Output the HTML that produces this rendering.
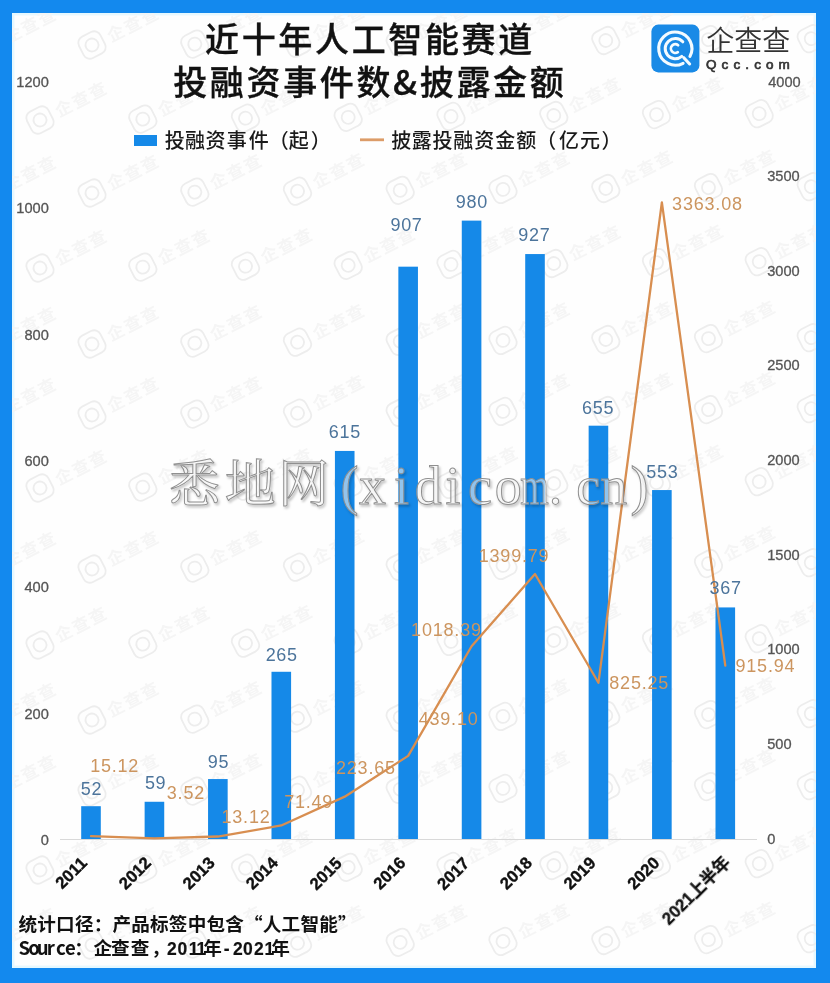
<!DOCTYPE html><html><head><meta charset="utf-8"><title>近十年人工智能赛道投融资事件数&amp;披露金额</title>
<style>html,body{margin:0;padding:0;background:#1389ee;}body{width:830px;height:983px;overflow:hidden;}svg{display:block;}</style></head><body>
<svg width="830" height="983" viewBox="0 0 830 983">
<defs><filter id="wmsh" x="-10%" y="-10%" width="130%" height="140%"><feDropShadow dx="1.5" dy="2" stdDeviation="1.2" flood-color="#000" flood-opacity="0.28"/></filter><filter id="bgb" x="-5%" y="-5%" width="110%" height="110%"><feGaussianBlur stdDeviation="0.7"/></filter><clipPath id="pc"><rect x="12" y="13" width="804" height="955"/></clipPath></defs>
<rect id="bg" x="0" y="0" width="830" height="983" fill="#1389ee"/>
<rect id="paper" x="12" y="13" width="804" height="955" fill="#fefefe"/>
<rect id="fringe" x="13.2" y="14.2" width="801.6" height="952.6" fill="none" stroke="#e6f8ff" stroke-width="2.4"/>
<g clip-path="url(#pc)"><g id="bgm" fill="none" stroke="#ededed" stroke-width="1.8" filter="url(#bgb)">
<g transform="translate(-10.8 45.9) rotate(-27)"><rect x="-12" y="-12" width="24" height="24" rx="7"/><circle cx="0" cy="0" r="6.5"/><text x="18" y="6.5" stroke="none" fill="#f5f5f5" font-family='"Noto Sans CJK SC", "Liberation Sans", sans-serif' font-size="17" font-weight="700" letter-spacing="2">企查查</text></g>
<g transform="translate(92.0 45.0) rotate(-27)"><rect x="-12" y="-12" width="24" height="24" rx="7"/><circle cx="0" cy="0" r="6.5"/><text x="18" y="6.5" stroke="none" fill="#f5f5f5" font-family='"Noto Sans CJK SC", "Liberation Sans", sans-serif' font-size="17" font-weight="700" letter-spacing="2">企查查</text></g>
<g transform="translate(194.8 44.1) rotate(-27)"><rect x="-12" y="-12" width="24" height="24" rx="7"/><circle cx="0" cy="0" r="6.5"/><text x="18" y="6.5" stroke="none" fill="#f5f5f5" font-family='"Noto Sans CJK SC", "Liberation Sans", sans-serif' font-size="17" font-weight="700" letter-spacing="2">企查查</text></g>
<g transform="translate(297.5 43.2) rotate(-27)"><rect x="-12" y="-12" width="24" height="24" rx="7"/><circle cx="0" cy="0" r="6.5"/><text x="18" y="6.5" stroke="none" fill="#f5f5f5" font-family='"Noto Sans CJK SC", "Liberation Sans", sans-serif' font-size="17" font-weight="700" letter-spacing="2">企查查</text></g>
<g transform="translate(400.2 42.3) rotate(-27)"><rect x="-12" y="-12" width="24" height="24" rx="7"/><circle cx="0" cy="0" r="6.5"/><text x="18" y="6.5" stroke="none" fill="#f5f5f5" font-family='"Noto Sans CJK SC", "Liberation Sans", sans-serif' font-size="17" font-weight="700" letter-spacing="2">企查查</text></g>
<g transform="translate(503.0 41.4) rotate(-27)"><rect x="-12" y="-12" width="24" height="24" rx="7"/><circle cx="0" cy="0" r="6.5"/><text x="18" y="6.5" stroke="none" fill="#f5f5f5" font-family='"Noto Sans CJK SC", "Liberation Sans", sans-serif' font-size="17" font-weight="700" letter-spacing="2">企查查</text></g>
<g transform="translate(605.8 40.5) rotate(-27)"><rect x="-12" y="-12" width="24" height="24" rx="7"/><circle cx="0" cy="0" r="6.5"/><text x="18" y="6.5" stroke="none" fill="#f5f5f5" font-family='"Noto Sans CJK SC", "Liberation Sans", sans-serif' font-size="17" font-weight="700" letter-spacing="2">企查查</text></g>
<g transform="translate(708.5 39.6) rotate(-27)"><rect x="-12" y="-12" width="24" height="24" rx="7"/><circle cx="0" cy="0" r="6.5"/><text x="18" y="6.5" stroke="none" fill="#f5f5f5" font-family='"Noto Sans CJK SC", "Liberation Sans", sans-serif' font-size="17" font-weight="700" letter-spacing="2">企查查</text></g>
<g transform="translate(811.2 38.7) rotate(-27)"><rect x="-12" y="-12" width="24" height="24" rx="7"/><circle cx="0" cy="0" r="6.5"/><text x="18" y="6.5" stroke="none" fill="#f5f5f5" font-family='"Noto Sans CJK SC", "Liberation Sans", sans-serif' font-size="17" font-weight="700" letter-spacing="2">企查查</text></g>
<g transform="translate(-62.8 120.9) rotate(-27)"><rect x="-12" y="-12" width="24" height="24" rx="7"/><circle cx="0" cy="0" r="6.5"/><text x="18" y="6.5" stroke="none" fill="#f5f5f5" font-family='"Noto Sans CJK SC", "Liberation Sans", sans-serif' font-size="17" font-weight="700" letter-spacing="2">企查查</text></g>
<g transform="translate(40.0 120.0) rotate(-27)"><rect x="-12" y="-12" width="24" height="24" rx="7"/><circle cx="0" cy="0" r="6.5"/><text x="18" y="6.5" stroke="none" fill="#f5f5f5" font-family='"Noto Sans CJK SC", "Liberation Sans", sans-serif' font-size="17" font-weight="700" letter-spacing="2">企查查</text></g>
<g transform="translate(142.8 119.1) rotate(-27)"><rect x="-12" y="-12" width="24" height="24" rx="7"/><circle cx="0" cy="0" r="6.5"/><text x="18" y="6.5" stroke="none" fill="#f5f5f5" font-family='"Noto Sans CJK SC", "Liberation Sans", sans-serif' font-size="17" font-weight="700" letter-spacing="2">企查查</text></g>
<g transform="translate(245.5 118.2) rotate(-27)"><rect x="-12" y="-12" width="24" height="24" rx="7"/><circle cx="0" cy="0" r="6.5"/><text x="18" y="6.5" stroke="none" fill="#f5f5f5" font-family='"Noto Sans CJK SC", "Liberation Sans", sans-serif' font-size="17" font-weight="700" letter-spacing="2">企查查</text></g>
<g transform="translate(348.2 117.3) rotate(-27)"><rect x="-12" y="-12" width="24" height="24" rx="7"/><circle cx="0" cy="0" r="6.5"/><text x="18" y="6.5" stroke="none" fill="#f5f5f5" font-family='"Noto Sans CJK SC", "Liberation Sans", sans-serif' font-size="17" font-weight="700" letter-spacing="2">企查查</text></g>
<g transform="translate(451.0 116.4) rotate(-27)"><rect x="-12" y="-12" width="24" height="24" rx="7"/><circle cx="0" cy="0" r="6.5"/><text x="18" y="6.5" stroke="none" fill="#f5f5f5" font-family='"Noto Sans CJK SC", "Liberation Sans", sans-serif' font-size="17" font-weight="700" letter-spacing="2">企查查</text></g>
<g transform="translate(553.8 115.5) rotate(-27)"><rect x="-12" y="-12" width="24" height="24" rx="7"/><circle cx="0" cy="0" r="6.5"/><text x="18" y="6.5" stroke="none" fill="#f5f5f5" font-family='"Noto Sans CJK SC", "Liberation Sans", sans-serif' font-size="17" font-weight="700" letter-spacing="2">企查查</text></g>
<g transform="translate(656.5 114.6) rotate(-27)"><rect x="-12" y="-12" width="24" height="24" rx="7"/><circle cx="0" cy="0" r="6.5"/><text x="18" y="6.5" stroke="none" fill="#f5f5f5" font-family='"Noto Sans CJK SC", "Liberation Sans", sans-serif' font-size="17" font-weight="700" letter-spacing="2">企查查</text></g>
<g transform="translate(759.2 113.7) rotate(-27)"><rect x="-12" y="-12" width="24" height="24" rx="7"/><circle cx="0" cy="0" r="6.5"/><text x="18" y="6.5" stroke="none" fill="#f5f5f5" font-family='"Noto Sans CJK SC", "Liberation Sans", sans-serif' font-size="17" font-weight="700" letter-spacing="2">企查查</text></g>
<g transform="translate(-10.8 193.9) rotate(-27)"><rect x="-12" y="-12" width="24" height="24" rx="7"/><circle cx="0" cy="0" r="6.5"/><text x="18" y="6.5" stroke="none" fill="#f5f5f5" font-family='"Noto Sans CJK SC", "Liberation Sans", sans-serif' font-size="17" font-weight="700" letter-spacing="2">企查查</text></g>
<g transform="translate(92.0 193.0) rotate(-27)"><rect x="-12" y="-12" width="24" height="24" rx="7"/><circle cx="0" cy="0" r="6.5"/><text x="18" y="6.5" stroke="none" fill="#f5f5f5" font-family='"Noto Sans CJK SC", "Liberation Sans", sans-serif' font-size="17" font-weight="700" letter-spacing="2">企查查</text></g>
<g transform="translate(194.8 192.1) rotate(-27)"><rect x="-12" y="-12" width="24" height="24" rx="7"/><circle cx="0" cy="0" r="6.5"/><text x="18" y="6.5" stroke="none" fill="#f5f5f5" font-family='"Noto Sans CJK SC", "Liberation Sans", sans-serif' font-size="17" font-weight="700" letter-spacing="2">企查查</text></g>
<g transform="translate(297.5 191.2) rotate(-27)"><rect x="-12" y="-12" width="24" height="24" rx="7"/><circle cx="0" cy="0" r="6.5"/><text x="18" y="6.5" stroke="none" fill="#f5f5f5" font-family='"Noto Sans CJK SC", "Liberation Sans", sans-serif' font-size="17" font-weight="700" letter-spacing="2">企查查</text></g>
<g transform="translate(400.2 190.3) rotate(-27)"><rect x="-12" y="-12" width="24" height="24" rx="7"/><circle cx="0" cy="0" r="6.5"/><text x="18" y="6.5" stroke="none" fill="#f5f5f5" font-family='"Noto Sans CJK SC", "Liberation Sans", sans-serif' font-size="17" font-weight="700" letter-spacing="2">企查查</text></g>
<g transform="translate(503.0 189.4) rotate(-27)"><rect x="-12" y="-12" width="24" height="24" rx="7"/><circle cx="0" cy="0" r="6.5"/><text x="18" y="6.5" stroke="none" fill="#f5f5f5" font-family='"Noto Sans CJK SC", "Liberation Sans", sans-serif' font-size="17" font-weight="700" letter-spacing="2">企查查</text></g>
<g transform="translate(605.8 188.5) rotate(-27)"><rect x="-12" y="-12" width="24" height="24" rx="7"/><circle cx="0" cy="0" r="6.5"/><text x="18" y="6.5" stroke="none" fill="#f5f5f5" font-family='"Noto Sans CJK SC", "Liberation Sans", sans-serif' font-size="17" font-weight="700" letter-spacing="2">企查查</text></g>
<g transform="translate(708.5 187.6) rotate(-27)"><rect x="-12" y="-12" width="24" height="24" rx="7"/><circle cx="0" cy="0" r="6.5"/><text x="18" y="6.5" stroke="none" fill="#f5f5f5" font-family='"Noto Sans CJK SC", "Liberation Sans", sans-serif' font-size="17" font-weight="700" letter-spacing="2">企查查</text></g>
<g transform="translate(811.2 186.7) rotate(-27)"><rect x="-12" y="-12" width="24" height="24" rx="7"/><circle cx="0" cy="0" r="6.5"/><text x="18" y="6.5" stroke="none" fill="#f5f5f5" font-family='"Noto Sans CJK SC", "Liberation Sans", sans-serif' font-size="17" font-weight="700" letter-spacing="2">企查查</text></g>
<g transform="translate(-62.8 268.9) rotate(-27)"><rect x="-12" y="-12" width="24" height="24" rx="7"/><circle cx="0" cy="0" r="6.5"/><text x="18" y="6.5" stroke="none" fill="#f5f5f5" font-family='"Noto Sans CJK SC", "Liberation Sans", sans-serif' font-size="17" font-weight="700" letter-spacing="2">企查查</text></g>
<g transform="translate(40.0 268.0) rotate(-27)"><rect x="-12" y="-12" width="24" height="24" rx="7"/><circle cx="0" cy="0" r="6.5"/><text x="18" y="6.5" stroke="none" fill="#f5f5f5" font-family='"Noto Sans CJK SC", "Liberation Sans", sans-serif' font-size="17" font-weight="700" letter-spacing="2">企查查</text></g>
<g transform="translate(142.8 267.1) rotate(-27)"><rect x="-12" y="-12" width="24" height="24" rx="7"/><circle cx="0" cy="0" r="6.5"/><text x="18" y="6.5" stroke="none" fill="#f5f5f5" font-family='"Noto Sans CJK SC", "Liberation Sans", sans-serif' font-size="17" font-weight="700" letter-spacing="2">企查查</text></g>
<g transform="translate(245.5 266.2) rotate(-27)"><rect x="-12" y="-12" width="24" height="24" rx="7"/><circle cx="0" cy="0" r="6.5"/><text x="18" y="6.5" stroke="none" fill="#f5f5f5" font-family='"Noto Sans CJK SC", "Liberation Sans", sans-serif' font-size="17" font-weight="700" letter-spacing="2">企查查</text></g>
<g transform="translate(348.2 265.3) rotate(-27)"><rect x="-12" y="-12" width="24" height="24" rx="7"/><circle cx="0" cy="0" r="6.5"/><text x="18" y="6.5" stroke="none" fill="#f5f5f5" font-family='"Noto Sans CJK SC", "Liberation Sans", sans-serif' font-size="17" font-weight="700" letter-spacing="2">企查查</text></g>
<g transform="translate(451.0 264.4) rotate(-27)"><rect x="-12" y="-12" width="24" height="24" rx="7"/><circle cx="0" cy="0" r="6.5"/><text x="18" y="6.5" stroke="none" fill="#f5f5f5" font-family='"Noto Sans CJK SC", "Liberation Sans", sans-serif' font-size="17" font-weight="700" letter-spacing="2">企查查</text></g>
<g transform="translate(553.8 263.5) rotate(-27)"><rect x="-12" y="-12" width="24" height="24" rx="7"/><circle cx="0" cy="0" r="6.5"/><text x="18" y="6.5" stroke="none" fill="#f5f5f5" font-family='"Noto Sans CJK SC", "Liberation Sans", sans-serif' font-size="17" font-weight="700" letter-spacing="2">企查查</text></g>
<g transform="translate(656.5 262.6) rotate(-27)"><rect x="-12" y="-12" width="24" height="24" rx="7"/><circle cx="0" cy="0" r="6.5"/><text x="18" y="6.5" stroke="none" fill="#f5f5f5" font-family='"Noto Sans CJK SC", "Liberation Sans", sans-serif' font-size="17" font-weight="700" letter-spacing="2">企查查</text></g>
<g transform="translate(759.2 261.7) rotate(-27)"><rect x="-12" y="-12" width="24" height="24" rx="7"/><circle cx="0" cy="0" r="6.5"/><text x="18" y="6.5" stroke="none" fill="#f5f5f5" font-family='"Noto Sans CJK SC", "Liberation Sans", sans-serif' font-size="17" font-weight="700" letter-spacing="2">企查查</text></g>
<g transform="translate(-10.8 344.9) rotate(-27)"><rect x="-12" y="-12" width="24" height="24" rx="7"/><circle cx="0" cy="0" r="6.5"/><text x="18" y="6.5" stroke="none" fill="#f5f5f5" font-family='"Noto Sans CJK SC", "Liberation Sans", sans-serif' font-size="17" font-weight="700" letter-spacing="2">企查查</text></g>
<g transform="translate(92.0 344.0) rotate(-27)"><rect x="-12" y="-12" width="24" height="24" rx="7"/><circle cx="0" cy="0" r="6.5"/><text x="18" y="6.5" stroke="none" fill="#f5f5f5" font-family='"Noto Sans CJK SC", "Liberation Sans", sans-serif' font-size="17" font-weight="700" letter-spacing="2">企查查</text></g>
<g transform="translate(194.8 343.1) rotate(-27)"><rect x="-12" y="-12" width="24" height="24" rx="7"/><circle cx="0" cy="0" r="6.5"/><text x="18" y="6.5" stroke="none" fill="#f5f5f5" font-family='"Noto Sans CJK SC", "Liberation Sans", sans-serif' font-size="17" font-weight="700" letter-spacing="2">企查查</text></g>
<g transform="translate(297.5 342.2) rotate(-27)"><rect x="-12" y="-12" width="24" height="24" rx="7"/><circle cx="0" cy="0" r="6.5"/><text x="18" y="6.5" stroke="none" fill="#f5f5f5" font-family='"Noto Sans CJK SC", "Liberation Sans", sans-serif' font-size="17" font-weight="700" letter-spacing="2">企查查</text></g>
<g transform="translate(400.2 341.3) rotate(-27)"><rect x="-12" y="-12" width="24" height="24" rx="7"/><circle cx="0" cy="0" r="6.5"/><text x="18" y="6.5" stroke="none" fill="#f5f5f5" font-family='"Noto Sans CJK SC", "Liberation Sans", sans-serif' font-size="17" font-weight="700" letter-spacing="2">企查查</text></g>
<g transform="translate(503.0 340.4) rotate(-27)"><rect x="-12" y="-12" width="24" height="24" rx="7"/><circle cx="0" cy="0" r="6.5"/><text x="18" y="6.5" stroke="none" fill="#f5f5f5" font-family='"Noto Sans CJK SC", "Liberation Sans", sans-serif' font-size="17" font-weight="700" letter-spacing="2">企查查</text></g>
<g transform="translate(605.8 339.5) rotate(-27)"><rect x="-12" y="-12" width="24" height="24" rx="7"/><circle cx="0" cy="0" r="6.5"/><text x="18" y="6.5" stroke="none" fill="#f5f5f5" font-family='"Noto Sans CJK SC", "Liberation Sans", sans-serif' font-size="17" font-weight="700" letter-spacing="2">企查查</text></g>
<g transform="translate(708.5 338.6) rotate(-27)"><rect x="-12" y="-12" width="24" height="24" rx="7"/><circle cx="0" cy="0" r="6.5"/><text x="18" y="6.5" stroke="none" fill="#f5f5f5" font-family='"Noto Sans CJK SC", "Liberation Sans", sans-serif' font-size="17" font-weight="700" letter-spacing="2">企查查</text></g>
<g transform="translate(811.2 337.7) rotate(-27)"><rect x="-12" y="-12" width="24" height="24" rx="7"/><circle cx="0" cy="0" r="6.5"/><text x="18" y="6.5" stroke="none" fill="#f5f5f5" font-family='"Noto Sans CJK SC", "Liberation Sans", sans-serif' font-size="17" font-weight="700" letter-spacing="2">企查查</text></g>
<g transform="translate(-10.8 415.9) rotate(-27)"><rect x="-12" y="-12" width="24" height="24" rx="7"/><circle cx="0" cy="0" r="6.5"/><text x="18" y="6.5" stroke="none" fill="#f5f5f5" font-family='"Noto Sans CJK SC", "Liberation Sans", sans-serif' font-size="17" font-weight="700" letter-spacing="2">企查查</text></g>
<g transform="translate(92.0 415.0) rotate(-27)"><rect x="-12" y="-12" width="24" height="24" rx="7"/><circle cx="0" cy="0" r="6.5"/><text x="18" y="6.5" stroke="none" fill="#f5f5f5" font-family='"Noto Sans CJK SC", "Liberation Sans", sans-serif' font-size="17" font-weight="700" letter-spacing="2">企查查</text></g>
<g transform="translate(194.8 414.1) rotate(-27)"><rect x="-12" y="-12" width="24" height="24" rx="7"/><circle cx="0" cy="0" r="6.5"/><text x="18" y="6.5" stroke="none" fill="#f5f5f5" font-family='"Noto Sans CJK SC", "Liberation Sans", sans-serif' font-size="17" font-weight="700" letter-spacing="2">企查查</text></g>
<g transform="translate(297.5 413.2) rotate(-27)"><rect x="-12" y="-12" width="24" height="24" rx="7"/><circle cx="0" cy="0" r="6.5"/><text x="18" y="6.5" stroke="none" fill="#f5f5f5" font-family='"Noto Sans CJK SC", "Liberation Sans", sans-serif' font-size="17" font-weight="700" letter-spacing="2">企查查</text></g>
<g transform="translate(400.2 412.3) rotate(-27)"><rect x="-12" y="-12" width="24" height="24" rx="7"/><circle cx="0" cy="0" r="6.5"/><text x="18" y="6.5" stroke="none" fill="#f5f5f5" font-family='"Noto Sans CJK SC", "Liberation Sans", sans-serif' font-size="17" font-weight="700" letter-spacing="2">企查查</text></g>
<g transform="translate(503.0 411.4) rotate(-27)"><rect x="-12" y="-12" width="24" height="24" rx="7"/><circle cx="0" cy="0" r="6.5"/><text x="18" y="6.5" stroke="none" fill="#f5f5f5" font-family='"Noto Sans CJK SC", "Liberation Sans", sans-serif' font-size="17" font-weight="700" letter-spacing="2">企查查</text></g>
<g transform="translate(605.8 410.5) rotate(-27)"><rect x="-12" y="-12" width="24" height="24" rx="7"/><circle cx="0" cy="0" r="6.5"/><text x="18" y="6.5" stroke="none" fill="#f5f5f5" font-family='"Noto Sans CJK SC", "Liberation Sans", sans-serif' font-size="17" font-weight="700" letter-spacing="2">企查查</text></g>
<g transform="translate(708.5 409.6) rotate(-27)"><rect x="-12" y="-12" width="24" height="24" rx="7"/><circle cx="0" cy="0" r="6.5"/><text x="18" y="6.5" stroke="none" fill="#f5f5f5" font-family='"Noto Sans CJK SC", "Liberation Sans", sans-serif' font-size="17" font-weight="700" letter-spacing="2">企查查</text></g>
<g transform="translate(811.2 408.7) rotate(-27)"><rect x="-12" y="-12" width="24" height="24" rx="7"/><circle cx="0" cy="0" r="6.5"/><text x="18" y="6.5" stroke="none" fill="#f5f5f5" font-family='"Noto Sans CJK SC", "Liberation Sans", sans-serif' font-size="17" font-weight="700" letter-spacing="2">企查查</text></g>
<g transform="translate(-62.8 488.9) rotate(-27)"><rect x="-12" y="-12" width="24" height="24" rx="7"/><circle cx="0" cy="0" r="6.5"/><text x="18" y="6.5" stroke="none" fill="#f5f5f5" font-family='"Noto Sans CJK SC", "Liberation Sans", sans-serif' font-size="17" font-weight="700" letter-spacing="2">企查查</text></g>
<g transform="translate(40.0 488.0) rotate(-27)"><rect x="-12" y="-12" width="24" height="24" rx="7"/><circle cx="0" cy="0" r="6.5"/><text x="18" y="6.5" stroke="none" fill="#f5f5f5" font-family='"Noto Sans CJK SC", "Liberation Sans", sans-serif' font-size="17" font-weight="700" letter-spacing="2">企查查</text></g>
<g transform="translate(142.8 487.1) rotate(-27)"><rect x="-12" y="-12" width="24" height="24" rx="7"/><circle cx="0" cy="0" r="6.5"/><text x="18" y="6.5" stroke="none" fill="#f5f5f5" font-family='"Noto Sans CJK SC", "Liberation Sans", sans-serif' font-size="17" font-weight="700" letter-spacing="2">企查查</text></g>
<g transform="translate(245.5 486.2) rotate(-27)"><rect x="-12" y="-12" width="24" height="24" rx="7"/><circle cx="0" cy="0" r="6.5"/><text x="18" y="6.5" stroke="none" fill="#f5f5f5" font-family='"Noto Sans CJK SC", "Liberation Sans", sans-serif' font-size="17" font-weight="700" letter-spacing="2">企查查</text></g>
<g transform="translate(348.2 485.3) rotate(-27)"><rect x="-12" y="-12" width="24" height="24" rx="7"/><circle cx="0" cy="0" r="6.5"/><text x="18" y="6.5" stroke="none" fill="#f5f5f5" font-family='"Noto Sans CJK SC", "Liberation Sans", sans-serif' font-size="17" font-weight="700" letter-spacing="2">企查查</text></g>
<g transform="translate(451.0 484.4) rotate(-27)"><rect x="-12" y="-12" width="24" height="24" rx="7"/><circle cx="0" cy="0" r="6.5"/><text x="18" y="6.5" stroke="none" fill="#f5f5f5" font-family='"Noto Sans CJK SC", "Liberation Sans", sans-serif' font-size="17" font-weight="700" letter-spacing="2">企查查</text></g>
<g transform="translate(553.8 483.5) rotate(-27)"><rect x="-12" y="-12" width="24" height="24" rx="7"/><circle cx="0" cy="0" r="6.5"/><text x="18" y="6.5" stroke="none" fill="#f5f5f5" font-family='"Noto Sans CJK SC", "Liberation Sans", sans-serif' font-size="17" font-weight="700" letter-spacing="2">企查查</text></g>
<g transform="translate(656.5 482.6) rotate(-27)"><rect x="-12" y="-12" width="24" height="24" rx="7"/><circle cx="0" cy="0" r="6.5"/><text x="18" y="6.5" stroke="none" fill="#f5f5f5" font-family='"Noto Sans CJK SC", "Liberation Sans", sans-serif' font-size="17" font-weight="700" letter-spacing="2">企查查</text></g>
<g transform="translate(759.2 481.7) rotate(-27)"><rect x="-12" y="-12" width="24" height="24" rx="7"/><circle cx="0" cy="0" r="6.5"/><text x="18" y="6.5" stroke="none" fill="#f5f5f5" font-family='"Noto Sans CJK SC", "Liberation Sans", sans-serif' font-size="17" font-weight="700" letter-spacing="2">企查查</text></g>
<g transform="translate(-10.8 569.9) rotate(-27)"><rect x="-12" y="-12" width="24" height="24" rx="7"/><circle cx="0" cy="0" r="6.5"/><text x="18" y="6.5" stroke="none" fill="#f5f5f5" font-family='"Noto Sans CJK SC", "Liberation Sans", sans-serif' font-size="17" font-weight="700" letter-spacing="2">企查查</text></g>
<g transform="translate(92.0 569.0) rotate(-27)"><rect x="-12" y="-12" width="24" height="24" rx="7"/><circle cx="0" cy="0" r="6.5"/><text x="18" y="6.5" stroke="none" fill="#f5f5f5" font-family='"Noto Sans CJK SC", "Liberation Sans", sans-serif' font-size="17" font-weight="700" letter-spacing="2">企查查</text></g>
<g transform="translate(194.8 568.1) rotate(-27)"><rect x="-12" y="-12" width="24" height="24" rx="7"/><circle cx="0" cy="0" r="6.5"/><text x="18" y="6.5" stroke="none" fill="#f5f5f5" font-family='"Noto Sans CJK SC", "Liberation Sans", sans-serif' font-size="17" font-weight="700" letter-spacing="2">企查查</text></g>
<g transform="translate(297.5 567.2) rotate(-27)"><rect x="-12" y="-12" width="24" height="24" rx="7"/><circle cx="0" cy="0" r="6.5"/><text x="18" y="6.5" stroke="none" fill="#f5f5f5" font-family='"Noto Sans CJK SC", "Liberation Sans", sans-serif' font-size="17" font-weight="700" letter-spacing="2">企查查</text></g>
<g transform="translate(400.2 566.3) rotate(-27)"><rect x="-12" y="-12" width="24" height="24" rx="7"/><circle cx="0" cy="0" r="6.5"/><text x="18" y="6.5" stroke="none" fill="#f5f5f5" font-family='"Noto Sans CJK SC", "Liberation Sans", sans-serif' font-size="17" font-weight="700" letter-spacing="2">企查查</text></g>
<g transform="translate(503.0 565.4) rotate(-27)"><rect x="-12" y="-12" width="24" height="24" rx="7"/><circle cx="0" cy="0" r="6.5"/><text x="18" y="6.5" stroke="none" fill="#f5f5f5" font-family='"Noto Sans CJK SC", "Liberation Sans", sans-serif' font-size="17" font-weight="700" letter-spacing="2">企查查</text></g>
<g transform="translate(605.8 564.5) rotate(-27)"><rect x="-12" y="-12" width="24" height="24" rx="7"/><circle cx="0" cy="0" r="6.5"/><text x="18" y="6.5" stroke="none" fill="#f5f5f5" font-family='"Noto Sans CJK SC", "Liberation Sans", sans-serif' font-size="17" font-weight="700" letter-spacing="2">企查查</text></g>
<g transform="translate(708.5 563.6) rotate(-27)"><rect x="-12" y="-12" width="24" height="24" rx="7"/><circle cx="0" cy="0" r="6.5"/><text x="18" y="6.5" stroke="none" fill="#f5f5f5" font-family='"Noto Sans CJK SC", "Liberation Sans", sans-serif' font-size="17" font-weight="700" letter-spacing="2">企查查</text></g>
<g transform="translate(811.2 562.7) rotate(-27)"><rect x="-12" y="-12" width="24" height="24" rx="7"/><circle cx="0" cy="0" r="6.5"/><text x="18" y="6.5" stroke="none" fill="#f5f5f5" font-family='"Noto Sans CJK SC", "Liberation Sans", sans-serif' font-size="17" font-weight="700" letter-spacing="2">企查查</text></g>
<g transform="translate(-62.8 645.9) rotate(-27)"><rect x="-12" y="-12" width="24" height="24" rx="7"/><circle cx="0" cy="0" r="6.5"/><text x="18" y="6.5" stroke="none" fill="#f5f5f5" font-family='"Noto Sans CJK SC", "Liberation Sans", sans-serif' font-size="17" font-weight="700" letter-spacing="2">企查查</text></g>
<g transform="translate(40.0 645.0) rotate(-27)"><rect x="-12" y="-12" width="24" height="24" rx="7"/><circle cx="0" cy="0" r="6.5"/><text x="18" y="6.5" stroke="none" fill="#f5f5f5" font-family='"Noto Sans CJK SC", "Liberation Sans", sans-serif' font-size="17" font-weight="700" letter-spacing="2">企查查</text></g>
<g transform="translate(142.8 644.1) rotate(-27)"><rect x="-12" y="-12" width="24" height="24" rx="7"/><circle cx="0" cy="0" r="6.5"/><text x="18" y="6.5" stroke="none" fill="#f5f5f5" font-family='"Noto Sans CJK SC", "Liberation Sans", sans-serif' font-size="17" font-weight="700" letter-spacing="2">企查查</text></g>
<g transform="translate(245.5 643.2) rotate(-27)"><rect x="-12" y="-12" width="24" height="24" rx="7"/><circle cx="0" cy="0" r="6.5"/><text x="18" y="6.5" stroke="none" fill="#f5f5f5" font-family='"Noto Sans CJK SC", "Liberation Sans", sans-serif' font-size="17" font-weight="700" letter-spacing="2">企查查</text></g>
<g transform="translate(348.2 642.3) rotate(-27)"><rect x="-12" y="-12" width="24" height="24" rx="7"/><circle cx="0" cy="0" r="6.5"/><text x="18" y="6.5" stroke="none" fill="#f5f5f5" font-family='"Noto Sans CJK SC", "Liberation Sans", sans-serif' font-size="17" font-weight="700" letter-spacing="2">企查查</text></g>
<g transform="translate(451.0 641.4) rotate(-27)"><rect x="-12" y="-12" width="24" height="24" rx="7"/><circle cx="0" cy="0" r="6.5"/><text x="18" y="6.5" stroke="none" fill="#f5f5f5" font-family='"Noto Sans CJK SC", "Liberation Sans", sans-serif' font-size="17" font-weight="700" letter-spacing="2">企查查</text></g>
<g transform="translate(553.8 640.5) rotate(-27)"><rect x="-12" y="-12" width="24" height="24" rx="7"/><circle cx="0" cy="0" r="6.5"/><text x="18" y="6.5" stroke="none" fill="#f5f5f5" font-family='"Noto Sans CJK SC", "Liberation Sans", sans-serif' font-size="17" font-weight="700" letter-spacing="2">企查查</text></g>
<g transform="translate(656.5 639.6) rotate(-27)"><rect x="-12" y="-12" width="24" height="24" rx="7"/><circle cx="0" cy="0" r="6.5"/><text x="18" y="6.5" stroke="none" fill="#f5f5f5" font-family='"Noto Sans CJK SC", "Liberation Sans", sans-serif' font-size="17" font-weight="700" letter-spacing="2">企查查</text></g>
<g transform="translate(759.2 638.7) rotate(-27)"><rect x="-12" y="-12" width="24" height="24" rx="7"/><circle cx="0" cy="0" r="6.5"/><text x="18" y="6.5" stroke="none" fill="#f5f5f5" font-family='"Noto Sans CJK SC", "Liberation Sans", sans-serif' font-size="17" font-weight="700" letter-spacing="2">企查查</text></g>
<g transform="translate(-10.8 720.9) rotate(-27)"><rect x="-12" y="-12" width="24" height="24" rx="7"/><circle cx="0" cy="0" r="6.5"/><text x="18" y="6.5" stroke="none" fill="#f5f5f5" font-family='"Noto Sans CJK SC", "Liberation Sans", sans-serif' font-size="17" font-weight="700" letter-spacing="2">企查查</text></g>
<g transform="translate(92.0 720.0) rotate(-27)"><rect x="-12" y="-12" width="24" height="24" rx="7"/><circle cx="0" cy="0" r="6.5"/><text x="18" y="6.5" stroke="none" fill="#f5f5f5" font-family='"Noto Sans CJK SC", "Liberation Sans", sans-serif' font-size="17" font-weight="700" letter-spacing="2">企查查</text></g>
<g transform="translate(194.8 719.1) rotate(-27)"><rect x="-12" y="-12" width="24" height="24" rx="7"/><circle cx="0" cy="0" r="6.5"/><text x="18" y="6.5" stroke="none" fill="#f5f5f5" font-family='"Noto Sans CJK SC", "Liberation Sans", sans-serif' font-size="17" font-weight="700" letter-spacing="2">企查查</text></g>
<g transform="translate(297.5 718.2) rotate(-27)"><rect x="-12" y="-12" width="24" height="24" rx="7"/><circle cx="0" cy="0" r="6.5"/><text x="18" y="6.5" stroke="none" fill="#f5f5f5" font-family='"Noto Sans CJK SC", "Liberation Sans", sans-serif' font-size="17" font-weight="700" letter-spacing="2">企查查</text></g>
<g transform="translate(400.2 717.3) rotate(-27)"><rect x="-12" y="-12" width="24" height="24" rx="7"/><circle cx="0" cy="0" r="6.5"/><text x="18" y="6.5" stroke="none" fill="#f5f5f5" font-family='"Noto Sans CJK SC", "Liberation Sans", sans-serif' font-size="17" font-weight="700" letter-spacing="2">企查查</text></g>
<g transform="translate(503.0 716.4) rotate(-27)"><rect x="-12" y="-12" width="24" height="24" rx="7"/><circle cx="0" cy="0" r="6.5"/><text x="18" y="6.5" stroke="none" fill="#f5f5f5" font-family='"Noto Sans CJK SC", "Liberation Sans", sans-serif' font-size="17" font-weight="700" letter-spacing="2">企查查</text></g>
<g transform="translate(605.8 715.5) rotate(-27)"><rect x="-12" y="-12" width="24" height="24" rx="7"/><circle cx="0" cy="0" r="6.5"/><text x="18" y="6.5" stroke="none" fill="#f5f5f5" font-family='"Noto Sans CJK SC", "Liberation Sans", sans-serif' font-size="17" font-weight="700" letter-spacing="2">企查查</text></g>
<g transform="translate(708.5 714.6) rotate(-27)"><rect x="-12" y="-12" width="24" height="24" rx="7"/><circle cx="0" cy="0" r="6.5"/><text x="18" y="6.5" stroke="none" fill="#f5f5f5" font-family='"Noto Sans CJK SC", "Liberation Sans", sans-serif' font-size="17" font-weight="700" letter-spacing="2">企查查</text></g>
<g transform="translate(811.2 713.7) rotate(-27)"><rect x="-12" y="-12" width="24" height="24" rx="7"/><circle cx="0" cy="0" r="6.5"/><text x="18" y="6.5" stroke="none" fill="#f5f5f5" font-family='"Noto Sans CJK SC", "Liberation Sans", sans-serif' font-size="17" font-weight="700" letter-spacing="2">企查查</text></g>
<g transform="translate(-10.8 792.9) rotate(-27)"><rect x="-12" y="-12" width="24" height="24" rx="7"/><circle cx="0" cy="0" r="6.5"/><text x="18" y="6.5" stroke="none" fill="#f5f5f5" font-family='"Noto Sans CJK SC", "Liberation Sans", sans-serif' font-size="17" font-weight="700" letter-spacing="2">企查查</text></g>
<g transform="translate(92.0 792.0) rotate(-27)"><rect x="-12" y="-12" width="24" height="24" rx="7"/><circle cx="0" cy="0" r="6.5"/><text x="18" y="6.5" stroke="none" fill="#f5f5f5" font-family='"Noto Sans CJK SC", "Liberation Sans", sans-serif' font-size="17" font-weight="700" letter-spacing="2">企查查</text></g>
<g transform="translate(194.8 791.1) rotate(-27)"><rect x="-12" y="-12" width="24" height="24" rx="7"/><circle cx="0" cy="0" r="6.5"/><text x="18" y="6.5" stroke="none" fill="#f5f5f5" font-family='"Noto Sans CJK SC", "Liberation Sans", sans-serif' font-size="17" font-weight="700" letter-spacing="2">企查查</text></g>
<g transform="translate(297.5 790.2) rotate(-27)"><rect x="-12" y="-12" width="24" height="24" rx="7"/><circle cx="0" cy="0" r="6.5"/><text x="18" y="6.5" stroke="none" fill="#f5f5f5" font-family='"Noto Sans CJK SC", "Liberation Sans", sans-serif' font-size="17" font-weight="700" letter-spacing="2">企查查</text></g>
<g transform="translate(400.2 789.3) rotate(-27)"><rect x="-12" y="-12" width="24" height="24" rx="7"/><circle cx="0" cy="0" r="6.5"/><text x="18" y="6.5" stroke="none" fill="#f5f5f5" font-family='"Noto Sans CJK SC", "Liberation Sans", sans-serif' font-size="17" font-weight="700" letter-spacing="2">企查查</text></g>
<g transform="translate(503.0 788.4) rotate(-27)"><rect x="-12" y="-12" width="24" height="24" rx="7"/><circle cx="0" cy="0" r="6.5"/><text x="18" y="6.5" stroke="none" fill="#f5f5f5" font-family='"Noto Sans CJK SC", "Liberation Sans", sans-serif' font-size="17" font-weight="700" letter-spacing="2">企查查</text></g>
<g transform="translate(605.8 787.5) rotate(-27)"><rect x="-12" y="-12" width="24" height="24" rx="7"/><circle cx="0" cy="0" r="6.5"/><text x="18" y="6.5" stroke="none" fill="#f5f5f5" font-family='"Noto Sans CJK SC", "Liberation Sans", sans-serif' font-size="17" font-weight="700" letter-spacing="2">企查查</text></g>
<g transform="translate(708.5 786.6) rotate(-27)"><rect x="-12" y="-12" width="24" height="24" rx="7"/><circle cx="0" cy="0" r="6.5"/><text x="18" y="6.5" stroke="none" fill="#f5f5f5" font-family='"Noto Sans CJK SC", "Liberation Sans", sans-serif' font-size="17" font-weight="700" letter-spacing="2">企查查</text></g>
<g transform="translate(811.2 785.7) rotate(-27)"><rect x="-12" y="-12" width="24" height="24" rx="7"/><circle cx="0" cy="0" r="6.5"/><text x="18" y="6.5" stroke="none" fill="#f5f5f5" font-family='"Noto Sans CJK SC", "Liberation Sans", sans-serif' font-size="17" font-weight="700" letter-spacing="2">企查查</text></g>
<g transform="translate(-62.8 870.9) rotate(-27)"><rect x="-12" y="-12" width="24" height="24" rx="7"/><circle cx="0" cy="0" r="6.5"/><text x="18" y="6.5" stroke="none" fill="#f5f5f5" font-family='"Noto Sans CJK SC", "Liberation Sans", sans-serif' font-size="17" font-weight="700" letter-spacing="2">企查查</text></g>
<g transform="translate(40.0 870.0) rotate(-27)"><rect x="-12" y="-12" width="24" height="24" rx="7"/><circle cx="0" cy="0" r="6.5"/><text x="18" y="6.5" stroke="none" fill="#f5f5f5" font-family='"Noto Sans CJK SC", "Liberation Sans", sans-serif' font-size="17" font-weight="700" letter-spacing="2">企查查</text></g>
<g transform="translate(142.8 869.1) rotate(-27)"><rect x="-12" y="-12" width="24" height="24" rx="7"/><circle cx="0" cy="0" r="6.5"/><text x="18" y="6.5" stroke="none" fill="#f5f5f5" font-family='"Noto Sans CJK SC", "Liberation Sans", sans-serif' font-size="17" font-weight="700" letter-spacing="2">企查查</text></g>
<g transform="translate(245.5 868.2) rotate(-27)"><rect x="-12" y="-12" width="24" height="24" rx="7"/><circle cx="0" cy="0" r="6.5"/><text x="18" y="6.5" stroke="none" fill="#f5f5f5" font-family='"Noto Sans CJK SC", "Liberation Sans", sans-serif' font-size="17" font-weight="700" letter-spacing="2">企查查</text></g>
<g transform="translate(348.2 867.3) rotate(-27)"><rect x="-12" y="-12" width="24" height="24" rx="7"/><circle cx="0" cy="0" r="6.5"/><text x="18" y="6.5" stroke="none" fill="#f5f5f5" font-family='"Noto Sans CJK SC", "Liberation Sans", sans-serif' font-size="17" font-weight="700" letter-spacing="2">企查查</text></g>
<g transform="translate(451.0 866.4) rotate(-27)"><rect x="-12" y="-12" width="24" height="24" rx="7"/><circle cx="0" cy="0" r="6.5"/><text x="18" y="6.5" stroke="none" fill="#f5f5f5" font-family='"Noto Sans CJK SC", "Liberation Sans", sans-serif' font-size="17" font-weight="700" letter-spacing="2">企查查</text></g>
<g transform="translate(553.8 865.5) rotate(-27)"><rect x="-12" y="-12" width="24" height="24" rx="7"/><circle cx="0" cy="0" r="6.5"/><text x="18" y="6.5" stroke="none" fill="#f5f5f5" font-family='"Noto Sans CJK SC", "Liberation Sans", sans-serif' font-size="17" font-weight="700" letter-spacing="2">企查查</text></g>
<g transform="translate(656.5 864.6) rotate(-27)"><rect x="-12" y="-12" width="24" height="24" rx="7"/><circle cx="0" cy="0" r="6.5"/><text x="18" y="6.5" stroke="none" fill="#f5f5f5" font-family='"Noto Sans CJK SC", "Liberation Sans", sans-serif' font-size="17" font-weight="700" letter-spacing="2">企查查</text></g>
<g transform="translate(759.2 863.7) rotate(-27)"><rect x="-12" y="-12" width="24" height="24" rx="7"/><circle cx="0" cy="0" r="6.5"/><text x="18" y="6.5" stroke="none" fill="#f5f5f5" font-family='"Noto Sans CJK SC", "Liberation Sans", sans-serif' font-size="17" font-weight="700" letter-spacing="2">企查查</text></g>
<g transform="translate(-10.8 945.9) rotate(-27)"><rect x="-12" y="-12" width="24" height="24" rx="7"/><circle cx="0" cy="0" r="6.5"/><text x="18" y="6.5" stroke="none" fill="#f5f5f5" font-family='"Noto Sans CJK SC", "Liberation Sans", sans-serif' font-size="17" font-weight="700" letter-spacing="2">企查查</text></g>
<g transform="translate(92.0 945.0) rotate(-27)"><rect x="-12" y="-12" width="24" height="24" rx="7"/><circle cx="0" cy="0" r="6.5"/><text x="18" y="6.5" stroke="none" fill="#f5f5f5" font-family='"Noto Sans CJK SC", "Liberation Sans", sans-serif' font-size="17" font-weight="700" letter-spacing="2">企查查</text></g>
<g transform="translate(194.8 944.1) rotate(-27)"><rect x="-12" y="-12" width="24" height="24" rx="7"/><circle cx="0" cy="0" r="6.5"/><text x="18" y="6.5" stroke="none" fill="#f5f5f5" font-family='"Noto Sans CJK SC", "Liberation Sans", sans-serif' font-size="17" font-weight="700" letter-spacing="2">企查查</text></g>
<g transform="translate(297.5 943.2) rotate(-27)"><rect x="-12" y="-12" width="24" height="24" rx="7"/><circle cx="0" cy="0" r="6.5"/><text x="18" y="6.5" stroke="none" fill="#f5f5f5" font-family='"Noto Sans CJK SC", "Liberation Sans", sans-serif' font-size="17" font-weight="700" letter-spacing="2">企查查</text></g>
<g transform="translate(400.2 942.3) rotate(-27)"><rect x="-12" y="-12" width="24" height="24" rx="7"/><circle cx="0" cy="0" r="6.5"/><text x="18" y="6.5" stroke="none" fill="#f5f5f5" font-family='"Noto Sans CJK SC", "Liberation Sans", sans-serif' font-size="17" font-weight="700" letter-spacing="2">企查查</text></g>
<g transform="translate(503.0 941.4) rotate(-27)"><rect x="-12" y="-12" width="24" height="24" rx="7"/><circle cx="0" cy="0" r="6.5"/><text x="18" y="6.5" stroke="none" fill="#f5f5f5" font-family='"Noto Sans CJK SC", "Liberation Sans", sans-serif' font-size="17" font-weight="700" letter-spacing="2">企查查</text></g>
<g transform="translate(605.8 940.5) rotate(-27)"><rect x="-12" y="-12" width="24" height="24" rx="7"/><circle cx="0" cy="0" r="6.5"/><text x="18" y="6.5" stroke="none" fill="#f5f5f5" font-family='"Noto Sans CJK SC", "Liberation Sans", sans-serif' font-size="17" font-weight="700" letter-spacing="2">企查查</text></g>
<g transform="translate(708.5 939.6) rotate(-27)"><rect x="-12" y="-12" width="24" height="24" rx="7"/><circle cx="0" cy="0" r="6.5"/><text x="18" y="6.5" stroke="none" fill="#f5f5f5" font-family='"Noto Sans CJK SC", "Liberation Sans", sans-serif' font-size="17" font-weight="700" letter-spacing="2">企查查</text></g>
<g transform="translate(811.2 938.7) rotate(-27)"><rect x="-12" y="-12" width="24" height="24" rx="7"/><circle cx="0" cy="0" r="6.5"/><text x="18" y="6.5" stroke="none" fill="#f5f5f5" font-family='"Noto Sans CJK SC", "Liberation Sans", sans-serif' font-size="17" font-weight="700" letter-spacing="2">企查查</text></g>
</g></g>
<g id="logo">
<rect x="651.4" y="24.6" width="48" height="47.8" rx="7" fill="#1a8ae6"/>
<g fill="none" stroke="#f4fbff" stroke-linecap="round">
<path d="M683.09 63.26 A16.60 16.60 0 1 1 689.96 56.39" stroke-width="3.10"/>
<path d="M681.79 56.34 A10.10 10.10 0 1 1 682.81 41.84" stroke-width="3.00"/>
<path d="M677.82 52.20 A4.40 4.40 0 1 1 678.13 45.23" stroke-width="2.70"/>
<path d="M683.82 57.74 L689.62 63.96" stroke-width="3.1"/>
</g></g>
<rect id="leg1" x="134" y="135" width="23" height="11" fill="#1589e8"/>
<rect id="leg2" x="360" y="138.4" width="24" height="2.8" fill="#dc9c68"/>
<rect id="axis" x="60" y="839" width="697" height="1" fill="#d9d9d9"/>
<g id="bars">
<rect x="81.20" y="806.19" width="19.6" height="32.81" fill="#1589e8"/>
<rect x="144.63" y="801.77" width="19.6" height="37.23" fill="#1589e8"/>
<rect x="208.06" y="779.05" width="19.6" height="59.95" fill="#1589e8"/>
<rect x="271.49" y="671.78" width="19.6" height="167.22" fill="#1589e8"/>
<rect x="334.92" y="450.94" width="19.6" height="388.06" fill="#1589e8"/>
<rect x="398.35" y="266.68" width="19.6" height="572.32" fill="#1589e8"/>
<rect x="461.78" y="220.62" width="19.6" height="618.38" fill="#1589e8"/>
<rect x="525.21" y="254.06" width="19.6" height="584.94" fill="#1589e8"/>
<rect x="588.64" y="425.69" width="19.6" height="413.31" fill="#1589e8"/>
<rect x="652.07" y="490.06" width="19.6" height="348.94" fill="#1589e8"/>
<rect x="715.50" y="607.42" width="19.6" height="231.58" fill="#1589e8"/>
</g>
<path id="line" d="M91.00 836.14 L154.43 838.33 L217.86 836.52 L281.29 825.47 L344.72 796.66 L408.15 755.88 L471.58 646.22 L535.01 574.02 L598.44 682.78 L661.87 202.37 L725.30 665.61" fill="none" stroke="#d88e50" stroke-width="2.3" stroke-linejoin="round" stroke-linecap="round"/>
<text id="t1" x="370.00" y="52.40" font-family='"Noto Sans CJK SC", "Liberation Sans", sans-serif' font-size="34" font-weight="500" fill="#111" letter-spacing="2.65" stroke="#111" stroke-width="0.35" text-anchor="middle">近十年人工智能赛道</text>
<text id="t2" x="369.80" y="94.80" font-family='"Noto Sans CJK SC", "Liberation Sans", sans-serif' font-size="34" font-weight="500" fill="#111" letter-spacing="2.65" stroke="#111" stroke-width="0.35" text-anchor="middle">投融资事件数&amp;披露金额</text>
<text id="lg1" x="706.30" y="51.00" font-family='"Noto Sans CJK SC", "Liberation Sans", sans-serif' font-size="28" font-weight="350" fill="#333" text-anchor="start">企查查</text>
<text id="lg2" x="706.00" y="69.00" font-family='"Liberation Sans", "Noto Sans CJK SC", sans-serif' font-size="13.5" font-weight="400" fill="#333" letter-spacing="5.1" stroke="#333" stroke-width="0.7" text-anchor="start">Qcc.com</text>
<text id="lg_a" x="164.65 185.00 205.60 226.80 248.70 268.65 288.70 310.80" y="147.85" font-family='"Noto Sans CJK SC", "Liberation Sans", sans-serif' font-size="20" font-weight="500" fill="#1a1a1a">投融资事件（起）</text>
<text id="lg_b" x="391.25 411.70 432.55 453.20 474.30 495.15 516.35 536.25 558.90 580.00 601.50" y="147.85" font-family='"Noto Sans CJK SC", "Liberation Sans", sans-serif' font-size="20" font-weight="500" fill="#1a1a1a">披露投融资金额（亿元）</text>
<text id="al0" x="48.80" y="87.20" font-family='"Liberation Sans", "Noto Sans CJK SC", sans-serif' font-size="14.6" font-weight="400" fill="#555555" stroke="#555555" stroke-width="0.3" text-anchor="end">1200</text>
<text id="al1" x="48.80" y="213.40" font-family='"Liberation Sans", "Noto Sans CJK SC", sans-serif' font-size="14.6" font-weight="400" fill="#555555" stroke="#555555" stroke-width="0.3" text-anchor="end">1000</text>
<text id="al2" x="48.80" y="339.60" font-family='"Liberation Sans", "Noto Sans CJK SC", sans-serif' font-size="14.6" font-weight="400" fill="#555555" stroke="#555555" stroke-width="0.3" text-anchor="end">800</text>
<text id="al3" x="48.80" y="465.80" font-family='"Liberation Sans", "Noto Sans CJK SC", sans-serif' font-size="14.6" font-weight="400" fill="#555555" stroke="#555555" stroke-width="0.3" text-anchor="end">600</text>
<text id="al4" x="48.80" y="592.00" font-family='"Liberation Sans", "Noto Sans CJK SC", sans-serif' font-size="14.6" font-weight="400" fill="#555555" stroke="#555555" stroke-width="0.3" text-anchor="end">400</text>
<text id="al5" x="48.80" y="719.20" font-family='"Liberation Sans", "Noto Sans CJK SC", sans-serif' font-size="14.6" font-weight="400" fill="#555555" stroke="#555555" stroke-width="0.3" text-anchor="end">200</text>
<text id="al6" x="48.80" y="845.40" font-family='"Liberation Sans", "Noto Sans CJK SC", sans-serif' font-size="14.6" font-weight="400" fill="#555555" stroke="#555555" stroke-width="0.3" text-anchor="end">0</text>
<text id="ar0" x="768.20" y="86.60" font-family='"Liberation Sans", "Noto Sans CJK SC", sans-serif' font-size="14.6" font-weight="400" fill="#555555" stroke="#555555" stroke-width="0.3" text-anchor="start">4000</text>
<text id="ar1" x="767.20" y="181.40" font-family='"Liberation Sans", "Noto Sans CJK SC", sans-serif' font-size="14.6" font-weight="400" fill="#555555" stroke="#555555" stroke-width="0.3" text-anchor="start">3500</text>
<text id="ar2" x="767.20" y="276.20" font-family='"Liberation Sans", "Noto Sans CJK SC", sans-serif' font-size="14.6" font-weight="400" fill="#555555" stroke="#555555" stroke-width="0.3" text-anchor="start">3000</text>
<text id="ar3" x="767.20" y="370.00" font-family='"Liberation Sans", "Noto Sans CJK SC", sans-serif' font-size="14.6" font-weight="400" fill="#555555" stroke="#555555" stroke-width="0.3" text-anchor="start">2500</text>
<text id="ar4" x="767.20" y="464.80" font-family='"Liberation Sans", "Noto Sans CJK SC", sans-serif' font-size="14.6" font-weight="400" fill="#555555" stroke="#555555" stroke-width="0.3" text-anchor="start">2000</text>
<text id="ar5" x="767.20" y="559.60" font-family='"Liberation Sans", "Noto Sans CJK SC", sans-serif' font-size="14.6" font-weight="400" fill="#555555" stroke="#555555" stroke-width="0.3" text-anchor="start">1500</text>
<text id="ar6" x="767.20" y="654.40" font-family='"Liberation Sans", "Noto Sans CJK SC", sans-serif' font-size="14.6" font-weight="400" fill="#555555" stroke="#555555" stroke-width="0.3" text-anchor="start">1000</text>
<text id="ar7" x="767.20" y="749.20" font-family='"Liberation Sans", "Noto Sans CJK SC", sans-serif' font-size="14.6" font-weight="400" fill="#555555" stroke="#555555" stroke-width="0.3" text-anchor="start">500</text>
<text id="ar8" x="767.20" y="844.00" font-family='"Liberation Sans", "Noto Sans CJK SC", sans-serif' font-size="14.6" font-weight="400" fill="#555555" stroke="#555555" stroke-width="0.3" text-anchor="start">0</text>
<text id="bl0" x="91.40" y="794.50" font-family='"Liberation Sans", "Noto Sans CJK SC", sans-serif' font-size="18" font-weight="400" fill="#4c749b" letter-spacing="0.7" text-anchor="middle">52</text>
<text id="bl1" x="155.60" y="789.00" font-family='"Liberation Sans", "Noto Sans CJK SC", sans-serif' font-size="18" font-weight="400" fill="#4c749b" letter-spacing="0.7" text-anchor="middle">59</text>
<text id="bl2" x="218.40" y="768.30" font-family='"Liberation Sans", "Noto Sans CJK SC", sans-serif' font-size="18" font-weight="400" fill="#4c749b" letter-spacing="0.7" text-anchor="middle">95</text>
<text id="bl3" x="281.70" y="660.75" font-family='"Liberation Sans", "Noto Sans CJK SC", sans-serif' font-size="18" font-weight="400" fill="#4c749b" letter-spacing="0.7" text-anchor="middle">265</text>
<text id="bl4" x="344.80" y="438.45" font-family='"Liberation Sans", "Noto Sans CJK SC", sans-serif' font-size="18" font-weight="400" fill="#4c749b" letter-spacing="0.7" text-anchor="middle">615</text>
<text id="bl5" x="406.50" y="231.00" font-family='"Liberation Sans", "Noto Sans CJK SC", sans-serif' font-size="18" font-weight="400" fill="#4c749b" letter-spacing="0.7" text-anchor="middle">907</text>
<text id="bl6" x="471.80" y="208.40" font-family='"Liberation Sans", "Noto Sans CJK SC", sans-serif' font-size="18" font-weight="400" fill="#4c749b" letter-spacing="0.7" text-anchor="middle">980</text>
<text id="bl7" x="534.40" y="240.80" font-family='"Liberation Sans", "Noto Sans CJK SC", sans-serif' font-size="18" font-weight="400" fill="#4c749b" letter-spacing="0.7" text-anchor="middle">927</text>
<text id="bl8" x="598.10" y="413.50" font-family='"Liberation Sans", "Noto Sans CJK SC", sans-serif' font-size="18" font-weight="400" fill="#4c749b" letter-spacing="0.7" text-anchor="middle">655</text>
<text id="bl9" x="662.30" y="477.50" font-family='"Liberation Sans", "Noto Sans CJK SC", sans-serif' font-size="18" font-weight="400" fill="#4c749b" letter-spacing="0.7" text-anchor="middle">553</text>
<text id="bl10" x="725.60" y="594.25" font-family='"Liberation Sans", "Noto Sans CJK SC", sans-serif' font-size="18" font-weight="400" fill="#4c749b" letter-spacing="0.7" text-anchor="middle">367</text>
<text id="ll0" x="90.15" y="772.45" font-family='"Liberation Sans", "Noto Sans CJK SC", sans-serif' font-size="18" font-weight="400" fill="#cc955f" letter-spacing="0.8" text-anchor="start">15.12</text>
<text id="ll1" x="166.80" y="798.70" font-family='"Liberation Sans", "Noto Sans CJK SC", sans-serif' font-size="18" font-weight="400" fill="#cc955f" letter-spacing="0.8" text-anchor="start">3.52</text>
<text id="ll2" x="221.50" y="823.05" font-family='"Liberation Sans", "Noto Sans CJK SC", sans-serif' font-size="18" font-weight="400" fill="#cc955f" letter-spacing="0.8" text-anchor="start">13.12</text>
<text id="ll3" x="284.15" y="807.75" font-family='"Liberation Sans", "Noto Sans CJK SC", sans-serif' font-size="18" font-weight="400" fill="#cc955f" letter-spacing="0.8" text-anchor="start">71.49</text>
<text id="ll4" x="336.00" y="773.75" font-family='"Liberation Sans", "Noto Sans CJK SC", sans-serif' font-size="18" font-weight="400" fill="#cc955f" letter-spacing="0.8" text-anchor="start">223.65</text>
<text id="ll5" x="418.70" y="725.00" font-family='"Liberation Sans", "Noto Sans CJK SC", sans-serif' font-size="18" font-weight="400" fill="#cc955f" letter-spacing="0.8" text-anchor="start">439.10</text>
<text id="ll6" x="411.10" y="635.90" font-family='"Liberation Sans", "Noto Sans CJK SC", sans-serif' font-size="18" font-weight="400" fill="#cc955f" letter-spacing="0.8" text-anchor="start">1018.39</text>
<text id="ll7" x="478.75" y="561.95" font-family='"Liberation Sans", "Noto Sans CJK SC", sans-serif' font-size="18" font-weight="400" fill="#cc955f" letter-spacing="0.8" text-anchor="start">1399.79</text>
<text id="ll8" x="609.30" y="688.75" font-family='"Liberation Sans", "Noto Sans CJK SC", sans-serif' font-size="18" font-weight="400" fill="#cc955f" letter-spacing="0.8" text-anchor="start">825.25</text>
<text id="ll9" x="672.10" y="209.75" font-family='"Liberation Sans", "Noto Sans CJK SC", sans-serif' font-size="18" font-weight="400" fill="#cc955f" letter-spacing="0.8" text-anchor="start">3363.08</text>
<text id="ll10" x="735.50" y="672.00" font-family='"Liberation Sans", "Noto Sans CJK SC", sans-serif' font-size="18" font-weight="400" fill="#cc955f" letter-spacing="0.8" text-anchor="start">915.94</text>
<text id="xl0" transform="translate(88.00 864.00) rotate(-45)" font-family='"Liberation Sans", "Noto Sans CJK SC", sans-serif' font-size="16.8" font-weight="700" fill="#111" stroke="#111" stroke-width="0.35" text-anchor="end">2011</text>
<text id="xl1" transform="translate(152.23 864.00) rotate(-45)" font-family='"Liberation Sans", "Noto Sans CJK SC", sans-serif' font-size="16.8" font-weight="700" fill="#111" stroke="#111" stroke-width="0.35" text-anchor="end">2012</text>
<text id="xl2" transform="translate(215.96 864.00) rotate(-45)" font-family='"Liberation Sans", "Noto Sans CJK SC", sans-serif' font-size="16.8" font-weight="700" fill="#111" stroke="#111" stroke-width="0.35" text-anchor="end">2013</text>
<text id="xl3" transform="translate(279.19 864.00) rotate(-45)" font-family='"Liberation Sans", "Noto Sans CJK SC", sans-serif' font-size="16.8" font-weight="700" fill="#111" stroke="#111" stroke-width="0.35" text-anchor="end">2014</text>
<text id="xl4" transform="translate(342.92 864.50) rotate(-45)" font-family='"Liberation Sans", "Noto Sans CJK SC", sans-serif' font-size="16.8" font-weight="700" fill="#111" stroke="#111" stroke-width="0.35" text-anchor="end">2015</text>
<text id="xl5" transform="translate(406.65 864.00) rotate(-45)" font-family='"Liberation Sans", "Noto Sans CJK SC", sans-serif' font-size="16.8" font-weight="700" fill="#111" stroke="#111" stroke-width="0.35" text-anchor="end">2016</text>
<text id="xl6" transform="translate(470.38 864.50) rotate(-45)" font-family='"Liberation Sans", "Noto Sans CJK SC", sans-serif' font-size="16.8" font-weight="700" fill="#111" stroke="#111" stroke-width="0.35" text-anchor="end">2017</text>
<text id="xl7" transform="translate(533.11 864.00) rotate(-45)" font-family='"Liberation Sans", "Noto Sans CJK SC", sans-serif' font-size="16.8" font-weight="700" fill="#111" stroke="#111" stroke-width="0.35" text-anchor="end">2018</text>
<text id="xl8" transform="translate(596.84 864.00) rotate(-45)" font-family='"Liberation Sans", "Noto Sans CJK SC", sans-serif' font-size="16.8" font-weight="700" fill="#111" stroke="#111" stroke-width="0.35" text-anchor="end">2019</text>
<text id="xl9" transform="translate(660.57 864.00) rotate(-45)" font-family='"Liberation Sans", "Noto Sans CJK SC", sans-serif' font-size="16.8" font-weight="700" fill="#111" stroke="#111" stroke-width="0.35" text-anchor="end">2020</text>
<text id="xl10" transform="translate(731.00 863.60) rotate(-45)" font-family='"Liberation Sans", "Noto Sans CJK SC", sans-serif' font-size="16.8" font-weight="700" fill="#111" stroke="#111" stroke-width="0.35" text-anchor="end">2021上半年</text>
<text id="fn1" x="18.50" y="930.80" font-family='"Noto Sans CJK SC", "Liberation Sans", sans-serif' font-size="18.6" font-weight="700" fill="#111" letter-spacing="0.2" text-anchor="start">统计口径：产品标签中包含“人工智能”</text>
<text id="fn2" x="18.40 28.25 36.85 46.80 56.05 65.05 74.30 93.60 110.90 130.80 151.20 203.25 271.35" y="954.70" font-family='"Noto Sans CJK SC", "Liberation Sans", sans-serif' font-size="18.6" font-weight="700" fill="#111">Source：企查查，年年</text>
<text id="fn3" x="167.00 177.55 188.80 196.40 223.75 233.10 243.05 254.10 264.50" y="955.45" font-family='"Liberation Sans", "Noto Sans CJK SC", sans-serif' font-size="17.5" font-weight="700" fill="#111" stroke="#111" stroke-width="0.2">2011-2021</text>
<text id="wm1" x="169.12 224.65 278.27" y="502.00" font-family='"Noto Serif CJK SC", "Liberation Serif", serif' font-size="51" font-weight="400" fill="rgba(255,255,255,0.5)" stroke="#8f8f8f" stroke-width="1.0" filter="url(#wmsh)">悉地网</text>
<text id="wm2" x="340.62 359.12 394.12 414.68 445.62 467.88 494.85 548.85 576.17 600.25 630.38" y="504.00" font-family='"Liberation Serif", "Noto Serif CJK SC", serif' font-size="54" font-weight="400" fill="rgba(255,255,255,0.5)" stroke="#8f8f8f" stroke-width="1.0" filter="url(#wmsh)">(xidico.cn)</text>
<text id="wm3" transform="translate(534.5 504.00) scale(0.68 1)" text-anchor="middle" font-family='"Liberation Serif", "Noto Serif CJK SC", serif' font-size="54" fill="rgba(255,255,255,0.5)" stroke="#8f8f8f" stroke-width="1.0" filter="url(#wmsh)">m</text>
</svg></body></html>
